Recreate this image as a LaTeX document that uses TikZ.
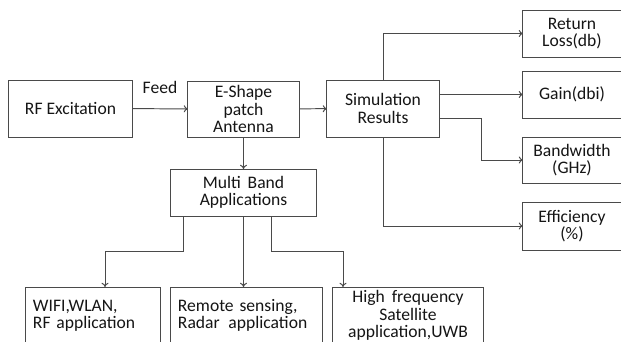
\documentclass[tikz,border=0pt]{standalone}
\usepackage{fontspec}
\setmainfont{Carlito}
\usepackage{xcolor}
\usetikzlibrary{positioning}
\usetikzlibrary{arrows.meta}

\definecolor{linegray}{HTML}{4A4A4A}
\definecolor{textblack}{HTML}{151515}

\tikzset{
    block/.style={draw=linegray, line width=0.7pt, fill=white, inner sep=0pt, outer sep=0pt,
        align=center, text=textblack, font=\fontsize{12.5pt}{12.4pt}\selectfont},
    link/.style={draw=linegray, line width=0.7pt, -{To[length=3pt,width=5pt]}},
}

\begin{document}
\begin{tikzpicture}[x=0.025cm, y=-0.025cm]
    \clip (0,0) rectangle (621,342);

    \node (rf_excitation) [block, minimum width=3.075cm, minimum height=1.425cm] at (70.5,108.5) {RF Excitation};
    \node (patch_antenna) [block, minimum width=2.775cm, minimum height=1.4cm] at (243.5,109) {E-Shape\\patch\\Antenna};
    \node (sim_results) [block, minimum width=2.8cm, minimum height=1.425cm] at (383,108.5) {Simulation\\Results};

    \node (return_loss) [block, minimum width=2.45cm, minimum height=1.175cm] at (572,33.5) {Return\\Loss(db)};
    \node (gain) [block, minimum width=2.45cm, minimum height=1.175cm] at (572,94.5) {Gain(dbi)};
    \node (bandwidth) [block, minimum width=2.45cm, minimum height=1.15cm] at (572,160) {Bandwidth\\(GHz)};
    \node (efficiency) [block, minimum width=2.45cm, minimum height=1.2cm] at (572,226) {Efficiency\\(\%)};

    \node (multi_band) [block, minimum width=3.625cm, minimum height=1.175cm] at (243.5,192.5) {Multi\, Band\\Applications};

    \node (wifi_app) [block, align=left, text width=3cm, inner xsep=0.175cm, minimum height=1.425cm] at (93,315.5) {WIFI,WLAN,\\RF application};
    \node (radar_app) [block, align=left, text width=3.425cm, inner xsep=0.175cm, minimum height=1.425cm] at (246.5,315.5) {Remote sensing,\\Radar\, application};
    \node (uwb_app) [block, minimum width=3.75cm, minimum height=1.425cm] at (408,315.5) {High\, frequency\\Satellite\\application,UWB};

    \coordinate (bw_turn) at (481,118);
    \coordinate (left_split) at (183,251);
    \coordinate (wifi_in) at (105,287);
    \coordinate (right_split) at (271,251);
    \coordinate (uwb_in) at (343,287);

    \draw [link] (rf_excitation) -- node (feed_label) [above=7pt, text=textblack, font=\fontsize{12.5pt}{12.4pt}\selectfont] {Feed} (patch_antenna);
    \draw [link] (patch_antenna) -- (sim_results);

    \draw [link] (sim_results.north) |- (return_loss.west);
    \draw [link] (sim_results.east |- gain.west) -- (gain.west);
    \draw [link] (sim_results.east |- bw_turn) -- (bw_turn) |- (bandwidth.west);
    \draw [link] (sim_results.south) |- (efficiency.west);

    \draw [link] (patch_antenna) -- (multi_band);
    \draw [link] (multi_band.south -| left_split) -- (left_split) -| (wifi_in);
    \draw [link] (multi_band.south) -- (multi_band.south |- radar_app.north);
    \draw [link] (multi_band.south -| right_split) -- (right_split) -| (uwb_in);
\end{tikzpicture}
\end{document}
